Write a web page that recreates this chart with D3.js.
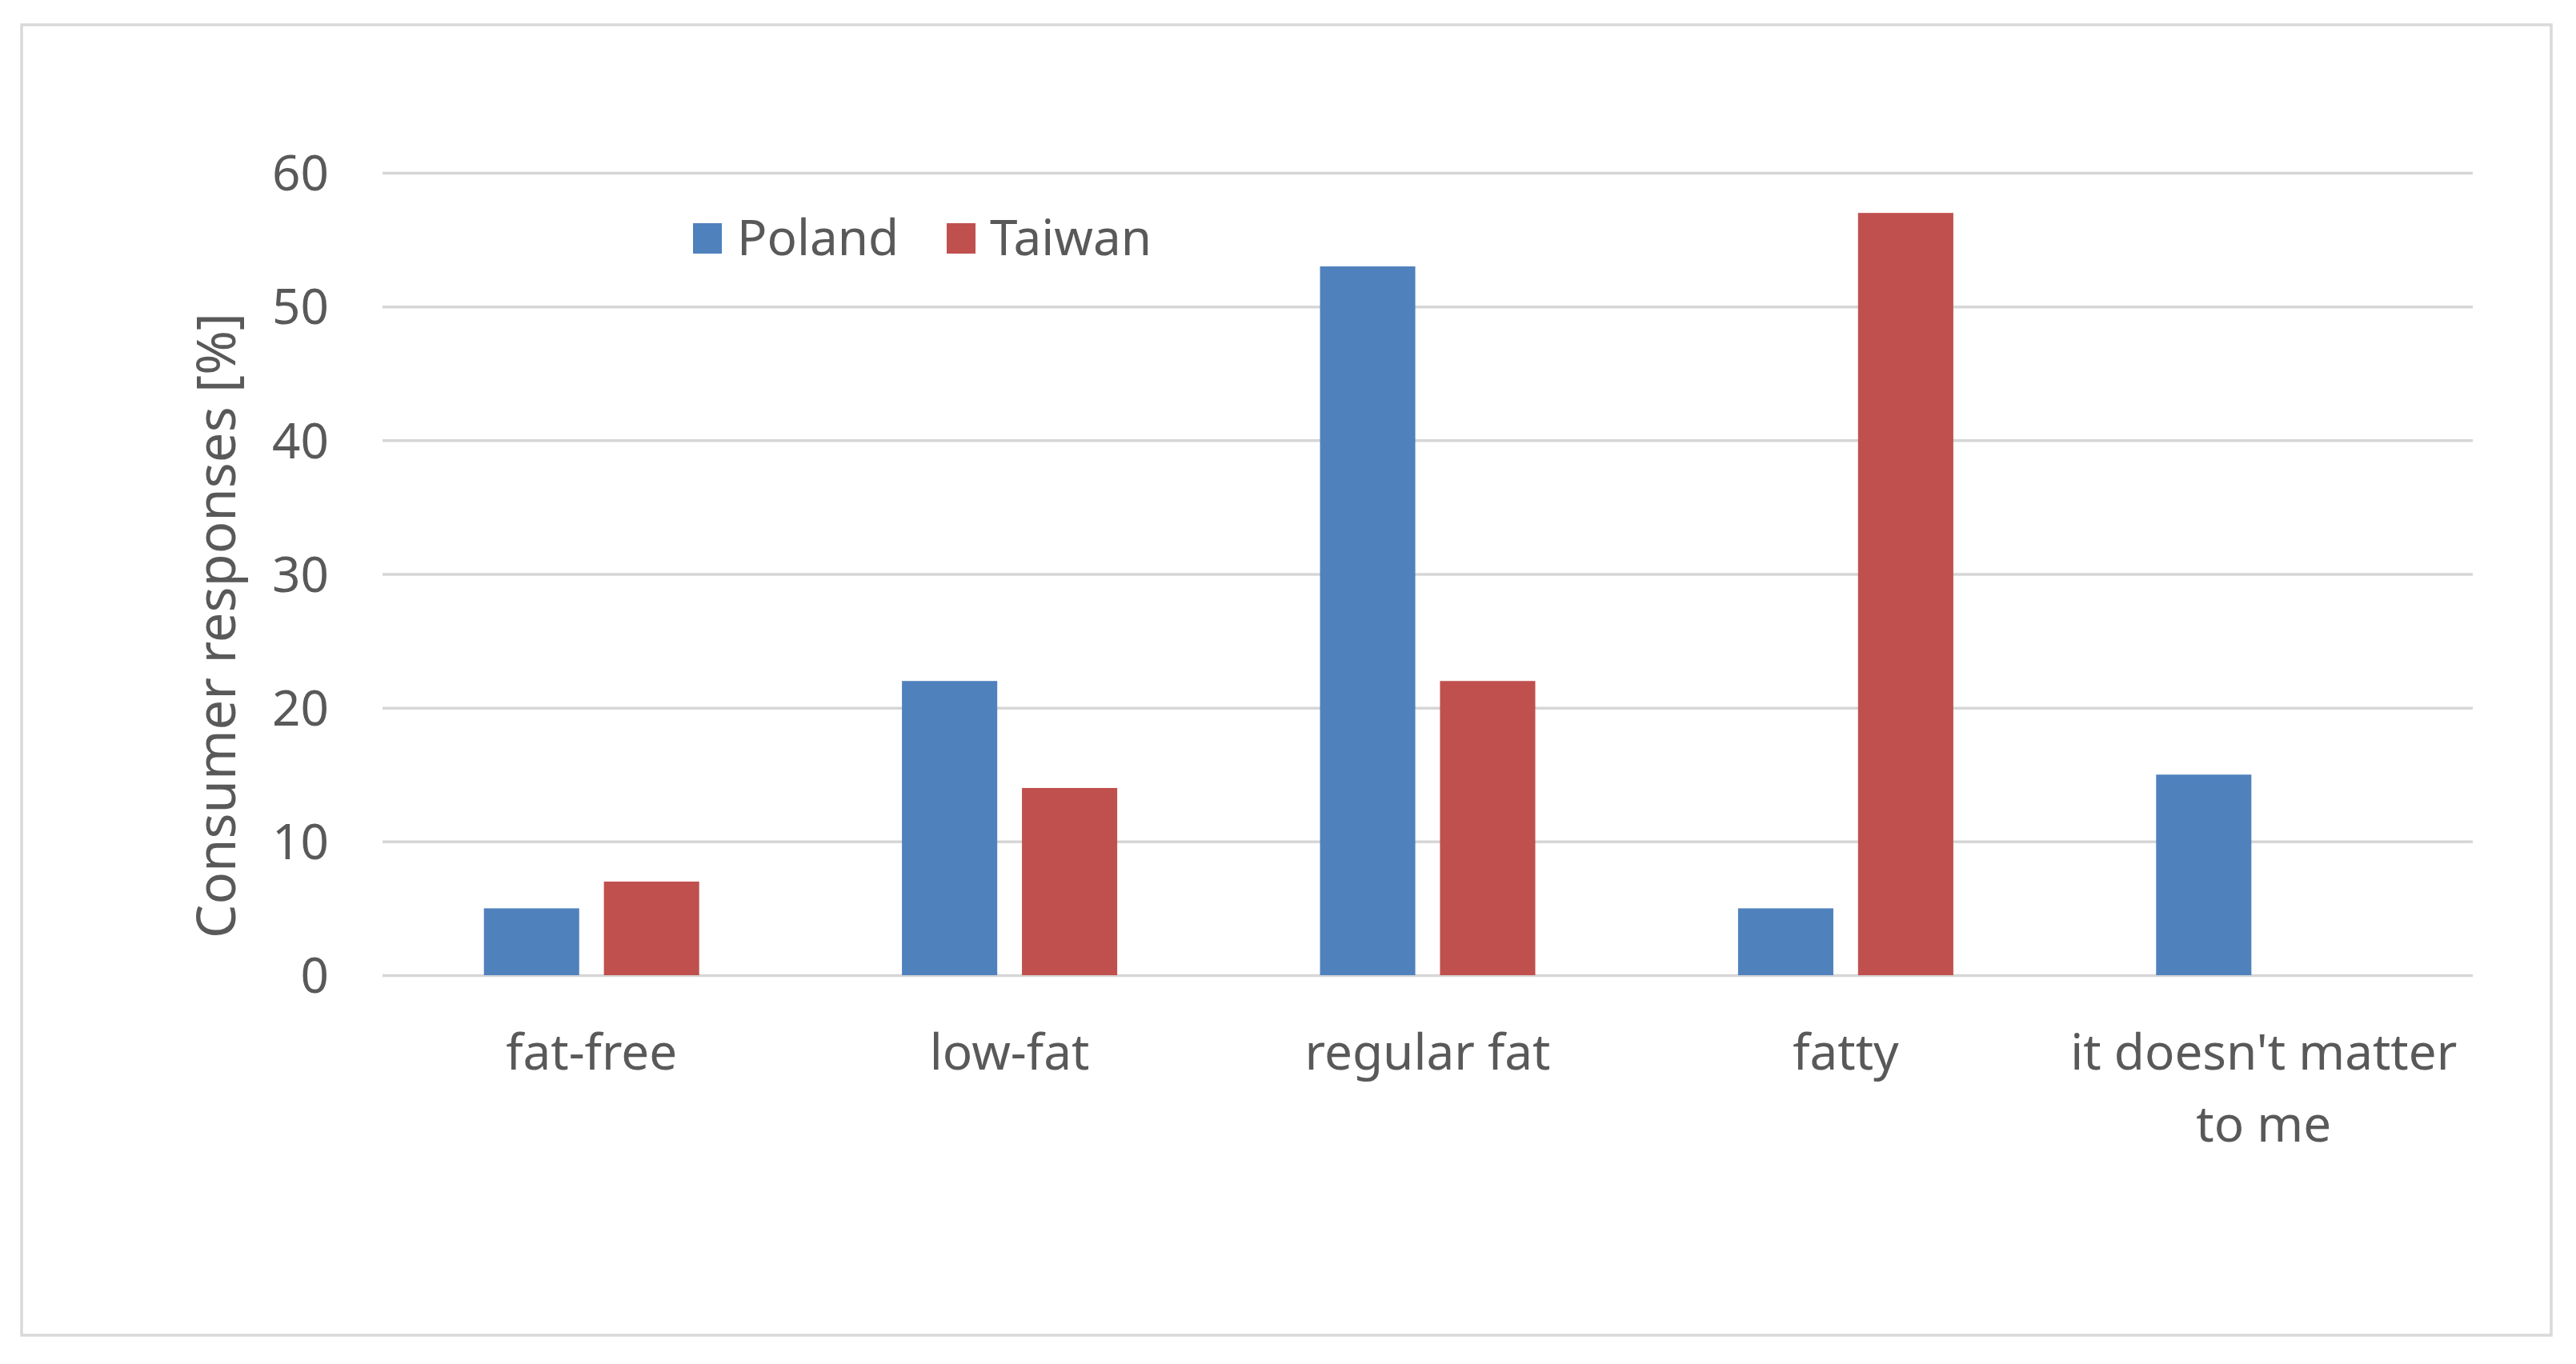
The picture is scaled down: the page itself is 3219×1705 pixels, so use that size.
<!DOCTYPE html>
<html>
<head>
<meta charset="utf-8">
<script src="https://cdn.jsdelivr.net/npm/d3@7"></script>
<style>
  html, body { margin: 0; padding: 0; background: #ffffff; }
  svg { display: block; }
  text { font-family: "Noto Sans", "Open Sans", sans-serif; fill: #595959; }
</style>
</head>
<body>
<script>
const categories = ["fat-free", "low-fat", "regular fat", "fatty", "it doesn't matter to me"];
const seriesNames = ["Poland", "Taiwan"];
const polandValues = [5, 22, 53, 5, 15];
const taiwanValues = [7, 14, 22, 57, 0];
const yTicks = [0, 10, 20, 30, 40, 50, 60];
const yLabel = "Consumer responses [%]";
const colors = ["#4F81BD", "#C0504D"];

const W = 3219, H = 1705;
const svg = d3.select("body").append("svg").attr("width", W).attr("height", H);

// outer chart border
svg.append("rect")
  .attr("x", 27).attr("y", 31).attr("width", 3161).attr("height", 1638)
  .attr("fill", "#ffffff").attr("stroke", "#d9d9d9").attr("stroke-width", 3.5);

const plot = { left: 478, right: 3090, top: 216, bottom: 1219 };

const y = d3.scaleLinear().domain([0, 60]).range([plot.bottom, plot.top]);
const x = d3.scaleBand().domain(categories).range([plot.left, plot.right]).paddingInner(0).paddingOuter(0);
const xs = d3.scaleBand().domain(seriesNames).range([0, x.bandwidth()]).paddingInner(0.206).paddingOuter(0.845);

// gridlines
const yAxis = d3.axisLeft(y).tickValues(yTicks).tickSize(-(plot.right - plot.left)).tickPadding(67).tickFormat(d3.format("d"));
const gy = svg.append("g").attr("transform", `translate(${plot.left},0)`).call(yAxis);
gy.select(".domain").remove();
gy.selectAll(".tick line").attr("stroke", "#d6d6d6").attr("stroke-width", 3.5);
gy.selectAll(".tick text").attr("font-size", 62).style("fill", "#595959").attr("dy", "0.35em");

// data rows
const rows = categories.map((c, i) => ({ cat: c, values: [polandValues[i], taiwanValues[i]] }));

const groups = svg.append("g").selectAll("g").data(rows).join("g")
  .attr("transform", d => `translate(${x(d.cat)},0)`);

groups.selectAll("rect")
  .data(d => d.values.map((v, j) => ({ name: seriesNames[j], v, j })).filter(e => e.v > 0))
  .join("rect")
  .attr("x", e => xs(e.name))
  .attr("width", xs.bandwidth())
  .attr("y", e => y(e.v))
  .attr("height", e => y(0) - y(e.v))
  .attr("fill", e => colors[e.j]);

// x axis labels
const labelLines = {
  "it doesn't matter to me": ["it doesn't matter", "to me"]
};
const xl = svg.append("g");
categories.forEach(c => {
  const lines = labelLines[c] || [c];
  const t = xl.append("text")
    .attr("x", x(c) + x.bandwidth() / 2)
    .attr("y", 1337)
    .attr("text-anchor", "middle")
    .attr("font-size", 62);
  lines.forEach((ln, k) => {
    t.append("tspan").attr("x", x(c) + x.bandwidth() / 2).attr("dy", k === 0 ? 0 : 90).text(ln);
  });
});

// y axis title
svg.append("text")
  .attr("transform", "translate(294,782) rotate(-90)")
  .attr("text-anchor", "middle")
  .attr("font-size", 67)
  .text(yLabel);

// legend
const legend = svg.append("g");
const legendItems = [
  { name: seriesNames[0], color: colors[0], sx: 866, tx: 921 },
  { name: seriesNames[1], color: colors[1], sx: 1183, tx: 1237 }
];
legendItems.forEach(it => {
  legend.append("rect").attr("x", it.sx).attr("y", 279).attr("width", 36).attr("height", 38).attr("fill", it.color);
  legend.append("text").attr("x", it.tx).attr("y", 319).attr("font-size", 62).text(it.name);
});
</script>
</body>
</html>
